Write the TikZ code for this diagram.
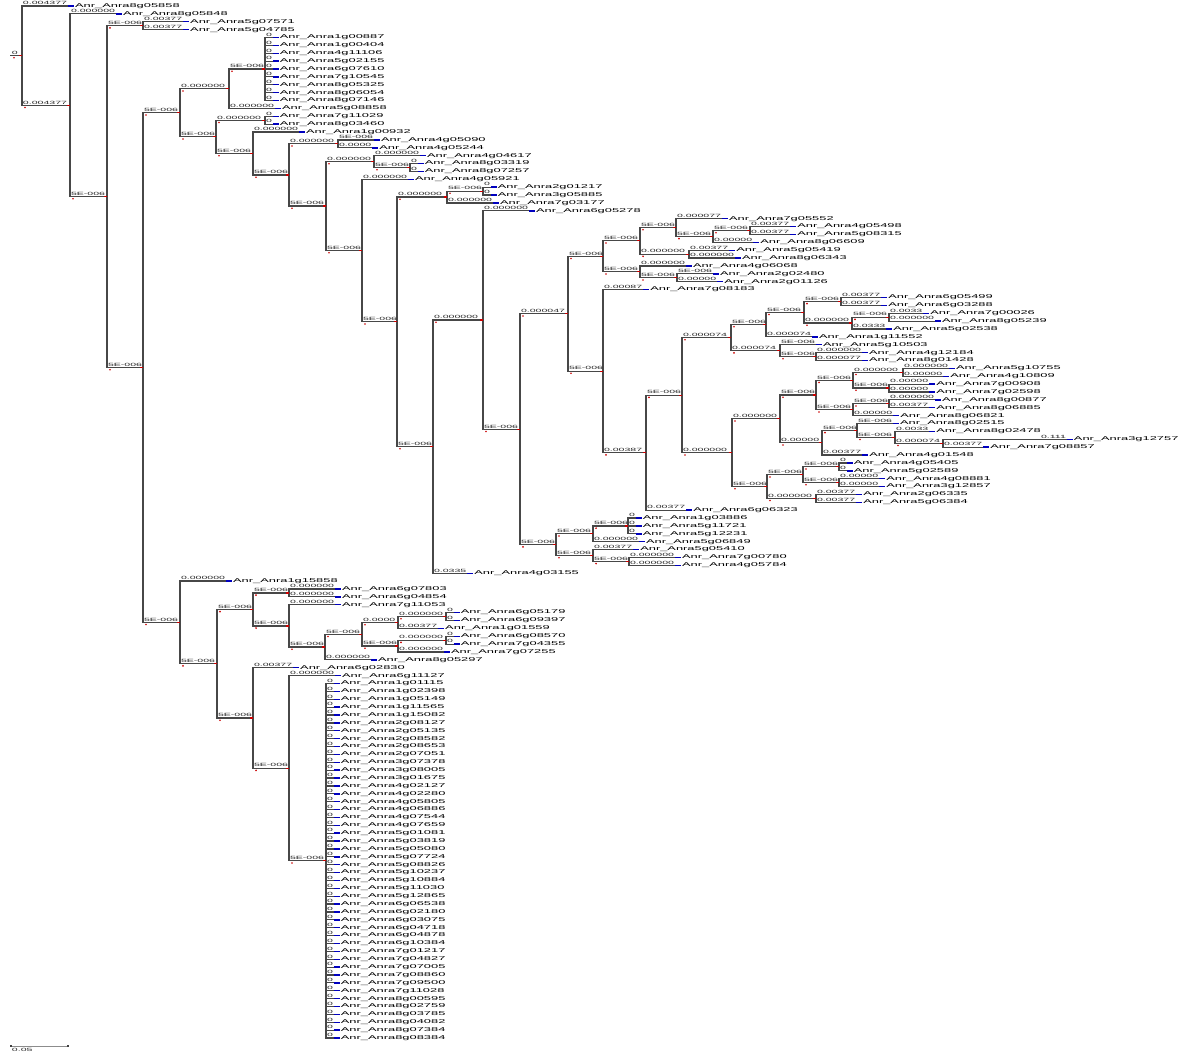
\documentclass[tikz,border=0pt]{standalone}
\usepackage{fontspec}
\newfontfamily\stretchfont[FakeStretch=2.3]{Liberation Sans}
\usetikzlibrary{calc}
\newcommand\Pl{5E-006}
\tikzset{
  brline/.style={draw=black!72, line width=1.2pt, line cap=rect},
  blab/.style={anchor=base west, inner sep=0pt, outer sep=0pt, text=black!85, font=\stretchfont\fontsize{4.6}{5}\selectfont},
  lname/.style={anchor=west, inner sep=0pt, outer sep=0pt, text=black, font=\stretchfont\fontsize{5.6}{6}\selectfont},
  bbar/.style={draw=blue!75!black, line width=1.4pt},
  rtick/.style={draw=red!80!black, line width=1.2pt},
  rdot/.style={fill=red!80!black},
}
\newcommand\Ly[1]{6+7.878*(#1)}
% leaf: index, parent x, label x, branch label, name suffix
\newcommand\lfx[5]{%
  \coordinate (L#1) at (#2,{\Ly{#1}});
  \node[blab] (t#1) at ({#3},{\Ly{#1}-1.2}) {#4};
  \coordinate (s#1) at ([xshift=1pt]t#1.east |- L#1);
  \draw[brline] (L#1) -- (s#1);
  \draw[bbar] (s#1) -- ++(6,0) coordinate (e#1);
  \node[lname] (n#1) at ([xshift=1pt]e#1) {Anr\_Anra#5};
}
\newcommand\lf[4]{\lfx{#1}{#2}{#2+1}{#3}{#4}}
% internal node: name, x, first child, last child
\newcommand\nd[4]{%
  \path let \p1=($(#3)!.5!(#4)$) in coordinate (#1) at (#2pt,\y1);
  \draw[brline] (#1 |- #3) -- (#1 |- #4);
}
% internal branch: parent, child, label
\newcommand\ik[3]{%
  \draw[brline] (#1 |- #2) -- (#2);
  \node[blab, xshift=1pt, yshift=1.2pt] (k#2) at (#1 |- #2) {#3};
  \draw[rtick] (#2) ++(-3,0) -- (#2);
  \fill[rdot] (#1 |- #2) ++(3,2.2) circle (0.9pt);
}
\begin{document}
\begin{tikzpicture}[x=1pt,y=-1pt]
\fill[white] (0,0) rectangle (1200,1056);
\useasboundingbox (0,0) rectangle (1200,1056);

% ---------- leaves ----------
\lf{0}{22}{0.004377}{8g05858}
\lf{1}{70}{0.000000}{8g05848}
\lf{2}{143}{0.00377}{5g07571}
\lf{3}{143}{0.00377}{5g04785}
\foreach \s [count=\k from 4] in {1g00887,1g00404,4g11106,5g02155,6g07610,7g10545,8g05325,8g06054,8g07146} {\lf{\k}{265}{0}{\s}}
\lf{13}{229}{0.000000}{5g08858}
\lf{14}{265}{0}{7g11029}
\lf{15}{265}{0}{8g03460}
\lf{16}{253}{0.000000}{1g00932}
\lf{17}{338}{\Pl}{4g05090}
\lf{18}{338}{0.0000}{4g05244}
\lf{19}{374}{0.000000}{4g04617}
\lf{20}{410}{0}{8g03319}
\lf{21}{410}{0}{8g07257}
\lf{22}{362}{0.000000}{4g05921}
\lf{23}{483}{0}{2g01217}
\lf{24}{483}{0}{3g05885}
\lf{25}{447}{0.000000}{7g03177}
\lf{26}{483}{0.000000}{6g05278}
\lf{27}{676}{0.000077}{7g05552}
\lf{28}{750}{0.00377}{4g05498}
\lf{29}{750}{0.00377}{5g08315}
\lf{30}{713}{0.00000}{8g06609}
\lf{31}{689}{0.00377}{5g05419}
\lf{32}{689}{0.000000}{8g06343}
\lf{33}{640}{0.000000}{4g06068}
\lf{34}{677}{\Pl}{2g02480}
\lf{35}{677}{0.00000}{2g01126}
\lf{36}{603}{0.00087}{7g08183}
\lf{37}{841}{0.00377}{6g05499}
\lf{38}{841}{0.00377}{6g03288}
\lf{39}{889}{0.0033}{7g00026}
\lf{40}{889}{0.000000}{8g05239}
\lf{41}{852}{0.0333}{5g02538}
\lf{42}{766}{0.000074}{1g11552}
\lf{43}{780}{\Pl}{5g10503}
\lf{44}{816}{0.000000}{4g12184}
\lf{45}{816}{0.000077}{8g01428}
\lf{46}{903}{0.000000}{5g10755}
\lf{47}{903}{0.00000}{4g10809}
\lf{48}{889}{0.00000}{7g00908}
\lf{49}{889}{0.00000}{7g02598}
\lf{50}{889}{0.000000}{8g00877}
\lf{51}{889}{0.00377}{8g06885}
\lf{52}{853}{0.00000}{8g06821}
\lf{53}{857}{\Pl}{8g02515}
\lf{54}{895}{0.0033}{8g02478}
\lfx{55}{943}{1041}{0.111}{3g12757}
\lf{56}{943}{0.00377}{7g08857}
\lf{57}{822}{0.00377}{4g01548}
\lf{58}{839}{0}{4g05405}
\lf{59}{839}{0}{5g02589}
\lf{60}{839}{0.00000}{4g08881}
\lf{61}{839}{0.00000}{3g12857}
\lf{62}{816}{0.00377}{2g06335}
\lf{63}{816}{0.00377}{5g06384}
\lf{64}{646}{0.00377}{6g06323}
\lf{65}{628}{0}{1g03886}
\lf{66}{628}{0}{5g11721}
\lf{67}{628}{0}{5g12231}
\lf{68}{593}{0.000000}{5g06849}
\lf{69}{593}{0.00377}{5g05410}
\lf{70}{629}{0.000000}{7g00780}
\lf{71}{629}{0.000000}{4g05784}
\lf{72}{433}{0.0335}{4g03155}
\lf{73}{180}{0.000000}{1g15858}
\lf{74}{289}{0.000000}{6g07803}
\lf{75}{289}{0.000000}{6g04854}
\lf{76}{289}{0.000000}{7g11053}
\lf{77}{446}{0}{6g05179}
\lf{78}{446}{0}{6g09397}
\lf{79}{398}{0.00377}{1g01559}
\lf{80}{446}{0}{6g08570}
\lf{81}{446}{0}{7g04355}
\lf{82}{398}{0.000000}{7g07255}
\lf{83}{325}{0.000000}{8g05297}
\lf{84}{253}{0.00377}{6g02830}
\lf{85}{289}{0.000000}{6g11127}
\foreach \s [count=\k from 86] in {1g01115,1g02398,1g05149,1g11565,1g15082,2g08127,2g05135,2g08582,2g08653,2g07051,3g07378,3g08005,3g01675,4g02127,4g02280,4g05805,4g06886,4g07544,4g07659,5g01081,5g03819,5g05080,5g07724,5g08826,5g10237,5g10884,5g11030,5g12865,6g06538,6g02180,6g03075,6g04718,6g04878,6g10384,7g01217,7g04827,7g07005,7g08860,7g09500,7g11028,8g00595,8g02759,8g03785,8g04082,8g07384,8g08384} {\lf{\k}{326}{0}{\s}}

% ---------- internal nodes (bottom-up) ----------
\nd{D}{143}{L2}{L3}
\nd{J}{265}{L4}{L12}
\nd{H}{229}{J}{L13}
\ik{H}{J}{\Pl}
\nd{K}{265}{L14}{L15}
\nd{N}{338}{L17}{L18}
\nd{S}{410}{L20}{L21}
\nd{Q}{374}{L19}{S}
\ik{Q}{S}{\Pl}
\nd{U}{483}{L23}{L24}
\nd{V}{447}{U}{L25}
\ik{V}{U}{\Pl}
% big middle clade
\nd{AH}{750}{L28}{L29}
\nd{AG}{713}{AH}{L30}
\ik{AG}{AH}{\Pl}
\nd{AE}{676}{L27}{AG}
\ik{AE}{AG}{\Pl}
\nd{AF}{689}{L31}{L32}
\nd{AC}{640}{AE}{AF}
\ik{AC}{AE}{\Pl}
\ik{AC}{AF}{0.000000}
\nd{AI}{677}{L34}{L35}
\nd{AD}{640}{L33}{AI}
\ik{AD}{AI}{\Pl}
\nd{AB}{603}{AC}{AD}
\ik{AB}{AC}{\Pl}
\ik{AB}{AD}{\Pl}
\nd{BF}{841}{L37}{L38}
\nd{BH}{889}{L39}{L40}
\nd{BG}{852}{BH}{L41}
\ik{BG}{BH}{\Pl}
\nd{BE}{804}{BF}{BG}
\ik{BE}{BF}{\Pl}
\ik{BE}{BG}{0.000000}
\nd{BD}{766}{BE}{L42}
\ik{BD}{BE}{\Pl}
\nd{BJ}{816}{L44}{L45}
\nd{BI}{780}{L43}{BJ}
\ik{BI}{BJ}{\Pl}
\nd{BC}{731}{BD}{BI}
\ik{BC}{BD}{\Pl}
\ik{BC}{BI}{0.000074}
\nd{CA}{903}{L46}{L47}
\nd{CC}{889}{L48}{L49}
\nd{CB}{853}{CA}{CC}
\ik{CB}{CA}{0.000000}
\ik{CB}{CC}{\Pl}
\nd{CF}{889}{L50}{L51}
\nd{CE}{853}{CF}{L52}
\ik{CE}{CF}{\Pl}
\nd{CD}{816}{CB}{CE}
\ik{CD}{CB}{\Pl}
\ik{CD}{CE}{\Pl}
\nd{CQ}{943}{L55}{L56}
\nd{CP}{895}{L54}{CQ}
\ik{CP}{CQ}{0.000074}
\nd{CO}{857}{L53}{CP}
\ik{CO}{CP}{\Pl}
\nd{CN}{822}{CO}{L57}
\ik{CN}{CO}{\Pl}
\nd{CG}{780}{CD}{CN}
\ik{CG}{CD}{\Pl}
\ik{CG}{CN}{0.00000}
\nd{CL}{839}{L58}{L59}
\nd{CM}{839}{L60}{L61}
\nd{CJ}{803}{CL}{CM}
\ik{CJ}{CL}{\Pl}
\ik{CJ}{CM}{\Pl}
\nd{CK}{816}{L62}{L63}
\nd{CI}{767}{CJ}{CK}
\ik{CI}{CJ}{\Pl}
\ik{CI}{CK}{0.000000}
\nd{BK}{732}{CG}{CI}
\ik{BK}{CG}{0.000000}
\ik{BK}{CI}{\Pl}
\nd{BB}{682}{BC}{BK}
\ik{BB}{BC}{0.000074}
\ik{BB}{BK}{0.000000}
\nd{AK}{646}{BB}{L64}
\ik{AK}{BB}{\Pl}
\nd{AJ}{603}{L36}{AK}
\ik{AJ}{AK}{0.00387}
\nd{AA}{568}{AB}{AJ}
\ik{AA}{AB}{\Pl}
\ik{AA}{AJ}{\Pl}
\nd{Z3}{628}{L65}{L67}
\nd{Z1}{593}{Z3}{L68}
\ik{Z1}{Z3}{\Pl}
\nd{Z4}{629}{L70}{L71}
\nd{Z2}{593}{L69}{Z4}
\ik{Z2}{Z4}{\Pl}
\nd{Z}{556}{Z1}{Z2}
\ik{Z}{Z1}{\Pl}
\ik{Z}{Z2}{\Pl}
\nd{Y}{520}{AA}{Z}
\ik{Y}{AA}{0.000047}
\ik{Y}{Z}{\Pl}
\nd{X}{483}{L26}{Y}
\ik{X}{Y}{\Pl}
\nd{W}{433}{X}{L72}
\ik{W}{X}{0.000000}
\nd{T}{397}{V}{W}
\ik{T}{V}{0.000000}
\ik{T}{W}{\Pl}
\nd{R}{362}{L22}{T}
\ik{R}{T}{\Pl}
\nd{P}{326}{Q}{R}
\ik{P}{Q}{0.000000}
\ik{P}{R}{\Pl}
\nd{M}{289}{N}{P}
\ik{M}{N}{0.000000}
\ik{M}{P}{\Pl}
\nd{LL}{253}{L16}{M}
\ik{LL}{M}{\Pl}
\nd{I}{216}{K}{LL}
\ik{I}{K}{0.000000}
\ik{I}{LL}{\Pl}
\nd{F}{180}{H}{I}
\ik{F}{H}{0.000000}
\ik{F}{I}{\Pl}
% lower clade
\nd{G4}{289}{L74}{L75}
\nd{G10}{446}{L77}{L78}
\nd{G8}{398}{G10}{L79}
\ik{G8}{G10}{0.000000}
\nd{G11}{446}{L80}{L81}
\nd{G9}{398}{G11}{L82}
\ik{G9}{G11}{0.000000}
\nd{G7}{362}{G8}{G9}
\ik{G7}{G8}{0.0000}
\ik{G7}{G9}{\Pl}
\nd{G6}{325}{G7}{L83}
\ik{G6}{G7}{\Pl}
\nd{G5}{289}{L76}{G6}
\ik{G5}{G6}{\Pl}
\nd{G3}{253}{G4}{G5}
\ik{G3}{G4}{\Pl}
\ik{G3}{G5}{\Pl}
\nd{G14}{326}{L86}{L131}
\nd{G13}{289}{L85}{G14}
\ik{G13}{G14}{\Pl}
\nd{G12}{253}{L84}{G13}
\ik{G12}{G13}{\Pl}
\nd{G2}{217}{G3}{G12}
\ik{G2}{G3}{\Pl}
\ik{G2}{G12}{\Pl}
\nd{G}{180}{L73}{G2}
\ik{G}{G2}{\Pl}
\nd{E}{143}{F}{G}
\ik{E}{F}{\Pl}
\ik{E}{G}{\Pl}
\nd{C}{107}{D}{E}
\ik{C}{D}{\Pl}
\ik{C}{E}{\Pl}
\nd{B}{70}{L1}{C}
\ik{B}{C}{\Pl}
\nd{R0}{22}{L0}{B}
\ik{R0}{B}{0.004377}
% root stub
\path (R0) ++(-11,0) coordinate (RS);
\draw[brline] (RS) -- (R0);
\node[blab, xshift=1pt, yshift=1.2pt] (rootlab) at (RS) {0};
\draw[rtick] (R0) ++(-3,0) -- (R0);
\fill[rdot] (RS) ++(3,2.2) circle (0.9pt);

% ---------- scale bar ----------
\coordinate (sb1) at (11,1046);
\coordinate (sb2) at (68,1046);
\draw[black!45, line width=0.9pt] (sb1) -- (sb2);
\fill[black!75] (sb1) ++(-1.2,-1.2) rectangle ++(2.4,2.4);
\fill[black!75] (sb2) ++(-1.2,-1.2) rectangle ++(2.4,2.4);
\node[blab, anchor=north west] (sblab) at (12,1048) {0.05};
\end{tikzpicture}
\end{document}
